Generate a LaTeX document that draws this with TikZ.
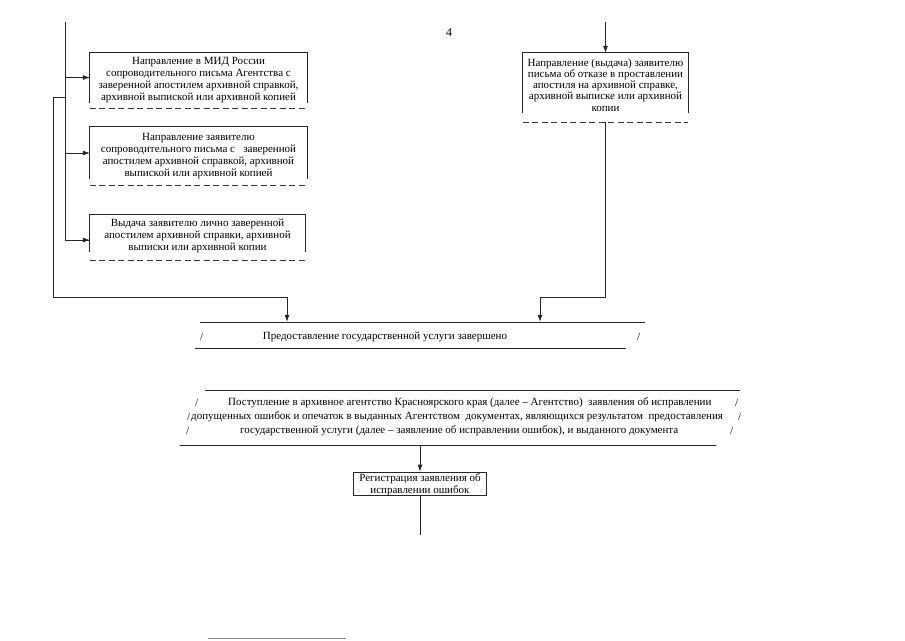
\documentclass[tikz,border=0pt]{standalone}
\usepackage{fontspec}
\setmainfont{Liberation Serif}
\usetikzlibrary{arrows.meta}
\begin{document}
\begin{tikzpicture}[x=1pt,y=-1pt,
  ln/.style={line width=0.7pt,draw=black!85},
  arr/.style={ln,-{Latex[length=7pt,width=5pt]}},
  dsh/.style={line width=0.8pt,draw=black!80,dash pattern=on 6pt off 3.5pt},
  txt/.style={font=\fontsize{11}{12.2}\selectfont,align=center,inner sep=0pt},
  boxarea/.style={draw=none,inner sep=0pt},
  bl/.style={font=\fontsize{11}{12}\selectfont,inner sep=0pt,anchor=west}]
\useasboundingbox (0,0) rectangle (905,640);
\fill[white] (0,0) rectangle (905,640);
\node[txt,font=\fontsize{12}{12}\selectfont] (pg) at (449,33) {4};
% left boxes
\node[boxarea,minimum width=217pt,minimum height=50pt] (b1) at (198.5,77.5) {};
\node[txt] (b1t) at ([yshift=-2.5pt]b1.center)
 {Направление в МИД России\\сопроводительного письма Агентства с\\заверенной апостилем архивной справкой,\\архивной выпиской или архивной копией};
\node[boxarea,minimum width=217pt,minimum height=52pt] (b2) at (198.5,153) {};
\node[txt] (b2t) at ([yshift=-3pt]b2.center)
 {Направление заявителю\\сопроводительного письма с \ \ заверенной\\апостилем архивной справкой, архивной\\выпиской или архивной копией};
\node[boxarea,minimum width=215pt,minimum height=37pt] (b3) at (197.5,233.5) {};
\node[txt] (b3t) at ([yshift=-2.5pt]b3.center)
 {Выдача заявителю лично заверенной\\апостилем архивной справки, архивной\\выписки или архивной копии};
\foreach \b/\d in {b1/6,b2/6,b3/8}{
  \draw[ln] (\b.south west) |- (\b.north east) -- (\b.south east);
  \draw[dsh] ([yshift=-\d pt]\b.south west) -- ([yshift=-\d pt]\b.south east);
}
% right box
\node[boxarea,minimum width=165pt,minimum height=60pt] (rb) at (605.5,83) {};
\node[txt,font=\fontsize{11}{11.2}\selectfont] (rbt) at ([yshift=-2pt]rb.center)
 {Направление (выдача) заявителю\\письма об отказе в проставлении\\апостиля на архивной справке,\\архивной выписке или архивной\\копии};
\draw[ln] (rb.south west) |- (rb.north east) -- (rb.south east);
\draw[dsh] ([yshift=-9pt]rb.south west) -- ([yshift=-9pt]rb.south east);
\coordinate (rtop) at (605.5,22);
\coordinate (rdn) at ([yshift=-9pt]rb.south);
% banner 1
\node[boxarea,minimum width=440pt,minimum height=26pt] (ban1) at (420,335) {};
\draw[ln] (200,322) -- (645,322);
\draw[ln] (195,348) -- (626,348);
\node[bl] (s1a) at (200,337) {/};
\node[bl] (s1b) at (637,337) {/};
\node[txt] (t1) at (385,337) {Предоставление государственной услуги завершено};
% banner 2
\node[boxarea,minimum width=535pt,minimum height=55pt] (ban2) at (460,417.5) {};
\draw[ln] (205,390) -- (740,390);
\draw[ln] (180,445) -- (716,445);
\node[bl] (l1a) at (195,403) {/};
\node[bl] (l1b) at (735,403) {/};
\node[bl] (l2a) at (187,417) {/};
\node[bl] (l2b) at (738,417) {/};
\node[bl] (l3a) at (186,431) {/};
\node[bl] (l3b) at (730,431) {/};
\node[bl] (r1) at (228,403) {Поступление в архивное агентство Красноярского края (далее – Агентство) \ заявления об исправлении};
\node[bl] (r2) at (191,417) {допущенных ошибок и опечаток в выданных Агентством \ документах, являющихся результатом \ предоставления};
\node[bl] (r3) at (240,431) {государственной услуги (далее – заявление об исправлении ошибок), и выданного документа};
% registration box
\node[boxarea,draw=black!85,line width=0.7pt,minimum width=133pt,minimum height=23pt] (reg) at (420,483.5) {};
\node[txt] (regt) at ([yshift=-1.5pt]reg.center) {Регистрация заявления об\\исправлении ошибок};
\coordinate (regend) at (420,535);
% connectors
\coordinate (ltop) at (65,22);
\coordinate (lbr) at (65,97);
\coordinate (lout) at (53,97);
\coordinate (lbot) at (53,297);
\coordinate (rbot) at (605.5,297);
\draw[ln] (ltop) |- ([yshift=-6.5pt]b3.west);
\draw[arr] (65,77.5) -- (b1.west);
\draw[arr] (65,153) -- (b2.west);
\draw[arr] (65,240) -- ([yshift=-6.5pt]b3.west);
\draw[arr] (lbr) -- (lout) -- (lbot) -| (ban1.north -| 287,0);
\draw[arr] (rtop) -- (rb.north);
\draw[arr] (rdn) -- (rbot) -| (ban1.north -| 540,0);
\draw[arr] (ban2.south -| reg.north) -- (reg.north);
\draw[ln] (reg.south) -- (regend);
\draw[line width=0.8pt,draw=black!45] (208,638.5) -- (346,638.5);
\end{tikzpicture}
\end{document}
